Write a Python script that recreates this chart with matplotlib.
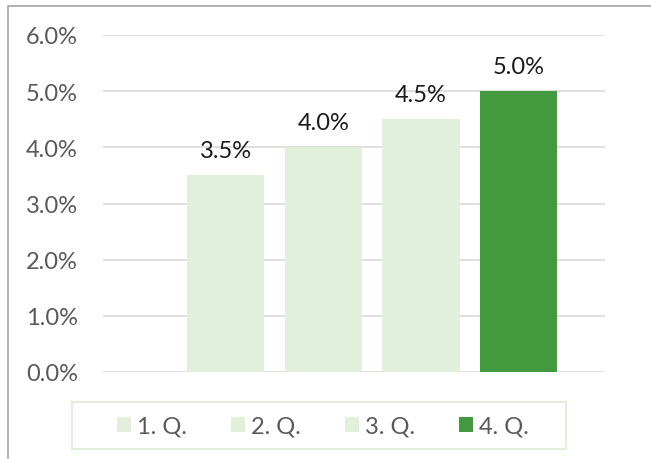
import matplotlib.pyplot as plt
from matplotlib.patches import Rectangle
from matplotlib.ticker import PercentFormatter

plt.rcParams['font.family'] = ['Lato', 'DejaVu Sans']

quarters = ['1. Q.', '2. Q.', '3. Q.', '4. Q.']
rates = [3.5, 4.0, 4.5, 5.0]
colors = ['#E2EFDA', '#E2EFDA', '#E2EFDA', '#43993D']
yticks = [0, 1, 2, 3, 4, 5, 6]

fig = plt.figure(figsize=(6.51, 4.6), dpi=100)
ax = fig.add_axes([103/651, 1-373/460, 502/651, 337/460])

# outer chart frame, cut off at right and bottom like the reference
fig.patches.append(Rectangle((8/651, -0.1), 1.2, 1-7/460+0.1, transform=fig.transFigure,
                             fill=False, edgecolor='#A6A6A6', linewidth=1.2))
# legend frame
fig.patches.append(Rectangle((72/651, 1-450/460), 494/651, 47/460, transform=fig.transFigure,
                             fill=False, edgecolor='#E2EFDA', linewidth=1.5))

xs = list(range(len(rates)))
bars = ax.bar(xs, rates, width=0.79, color=colors, label=quarters, zorder=3)
for x, v in zip(xs, rates):
    ax.text(x, v + 0.26, f'{v:.1f}%', ha='center', va='bottom', fontsize=17, color='#1a1a1a')

ax.set_xlim(-1.254, 3.884)
ax.set_ylim(0, 6)
ax.set_yticks(yticks)
ax.yaxis.set_major_formatter(PercentFormatter(decimals=1))
ax.tick_params(axis='y', length=0, pad=18, labelsize=17, labelcolor='#595959')
ax.set_xticks([])
ax.grid(axis='y', color='#D9D9D9', linewidth=1.2, zorder=0)
for s in ax.spines.values():
    s.set_visible(False)

leg = fig.legend(bars, quarters, loc='center', ncol=4,
                 bbox_to_anchor=(323/651, 1-427/460),
                 frameon=False, fontsize=17, labelcolor='#595959',
                 handlelength=0.58, handleheight=0.58, handletextpad=0.25,
                 columnspacing=1.88)

fig.savefig('out.png', dpi=100)
